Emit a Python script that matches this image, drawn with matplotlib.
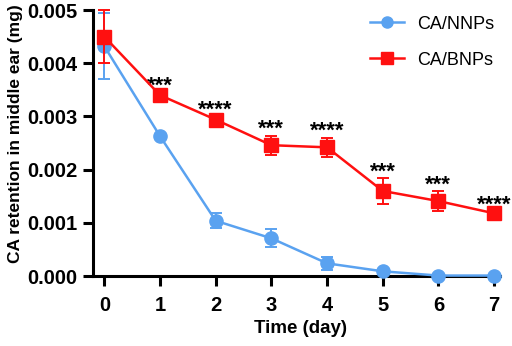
import matplotlib
matplotlib.use("Agg")
import matplotlib.pyplot as plt
from matplotlib.lines import Line2D

plt.rcParams['font.family'] = ['Liberation Sans', 'DejaVu Sans']

days = [0, 1, 2, 3, 4, 5, 6, 7]
nnps = [0.00432, 0.00263, 0.00104, 0.00071, 0.00024, 0.00009, 0.00001, 0.00001]
nnps_err = [0.00062, 0.00003, 0.00014, 0.00017, 0.00012, 0.00002, 0.0, 0.0]
bnps = [0.00450, 0.00340, 0.00294, 0.00246, 0.00242, 0.00160, 0.00141, 0.00118]
bnps_err = [0.00050, 0.00005, 0.00006, 0.00018, 0.00018, 0.00024, 0.00018, 0.00004]
stars = ['', '***', '****', '***', '****', '***', '***', '****']
yticks = [0.000, 0.001, 0.002, 0.003, 0.004, 0.005]
ytick_labels = ['0.000', '0.001', '0.002', '0.003', '0.004', '0.005']

blue = '#5AA2F0'
red = '#FF1010'

fig = plt.figure(figsize=(5.12, 3.46), dpi=100)
ax = fig.add_axes([0.182, 0.202, 0.795, 0.769])

ax.errorbar(days, nnps, yerr=nnps_err, color=blue, marker='o', markersize=9.5,
            linewidth=1.8, capsize=4, capthick=1.4, elinewidth=1.4,
            clip_on=False, zorder=3)
ax.errorbar(days, bnps, yerr=bnps_err, color=red, marker='s', markersize=10,
            linewidth=1.8, capsize=4, capthick=1.4, elinewidth=1.4,
            clip_on=False, zorder=4)

for d, v, e, s in zip(days, bnps, bnps_err, stars):
    if s:
        ax.annotate(s, xy=(d, v + e), xytext=(0, -3), textcoords='offset points',
                    ha='center', va='bottom', fontsize=16, fontweight='bold')

ax.set_xlim(-0.2, 7.11)
ax.set_ylim(0, 0.005)
ax.set_xticks(days)
ax.set_xticklabels([str(d) for d in days])
ax.set_yticks(yticks)
ax.set_yticklabels(ytick_labels)

for side in ['top', 'right']:
    ax.spines[side].set_visible(False)
for side in ['left', 'bottom']:
    ax.spines[side].set_linewidth(2.2)

ax.tick_params(axis='both', width=2.2, length=7.5, labelsize=14.5, direction='out')
ax.tick_params(axis='x', pad=7)
ax.tick_params(axis='y', pad=4)
for lab in ax.get_xticklabels() + ax.get_yticklabels():
    lab.set_fontweight('bold')

ax.set_xlabel('Time (day)', fontsize=13.5, fontweight='bold')
ax.set_ylabel('CA retention in middle ear (mg)', fontsize=12.5, fontweight='bold')
ax.xaxis.set_label_coords(0.51, -0.165)
ax.yaxis.set_label_coords(-0.172, 0.535)

handles = [Line2D([], [], color=blue, marker='o', markersize=8, linewidth=1.8),
           Line2D([], [], color=red, marker='s', markersize=8, linewidth=1.8)]
ax.legend(handles, ['CA/NNPs', 'CA/BNPs'], loc='upper right', bbox_to_anchor=(1.025, 1.04),
          frameon=False, fontsize=13, handlelength=1.9, labelspacing=1.05, handletextpad=0.7)

fig.savefig('out.png', dpi=100)
